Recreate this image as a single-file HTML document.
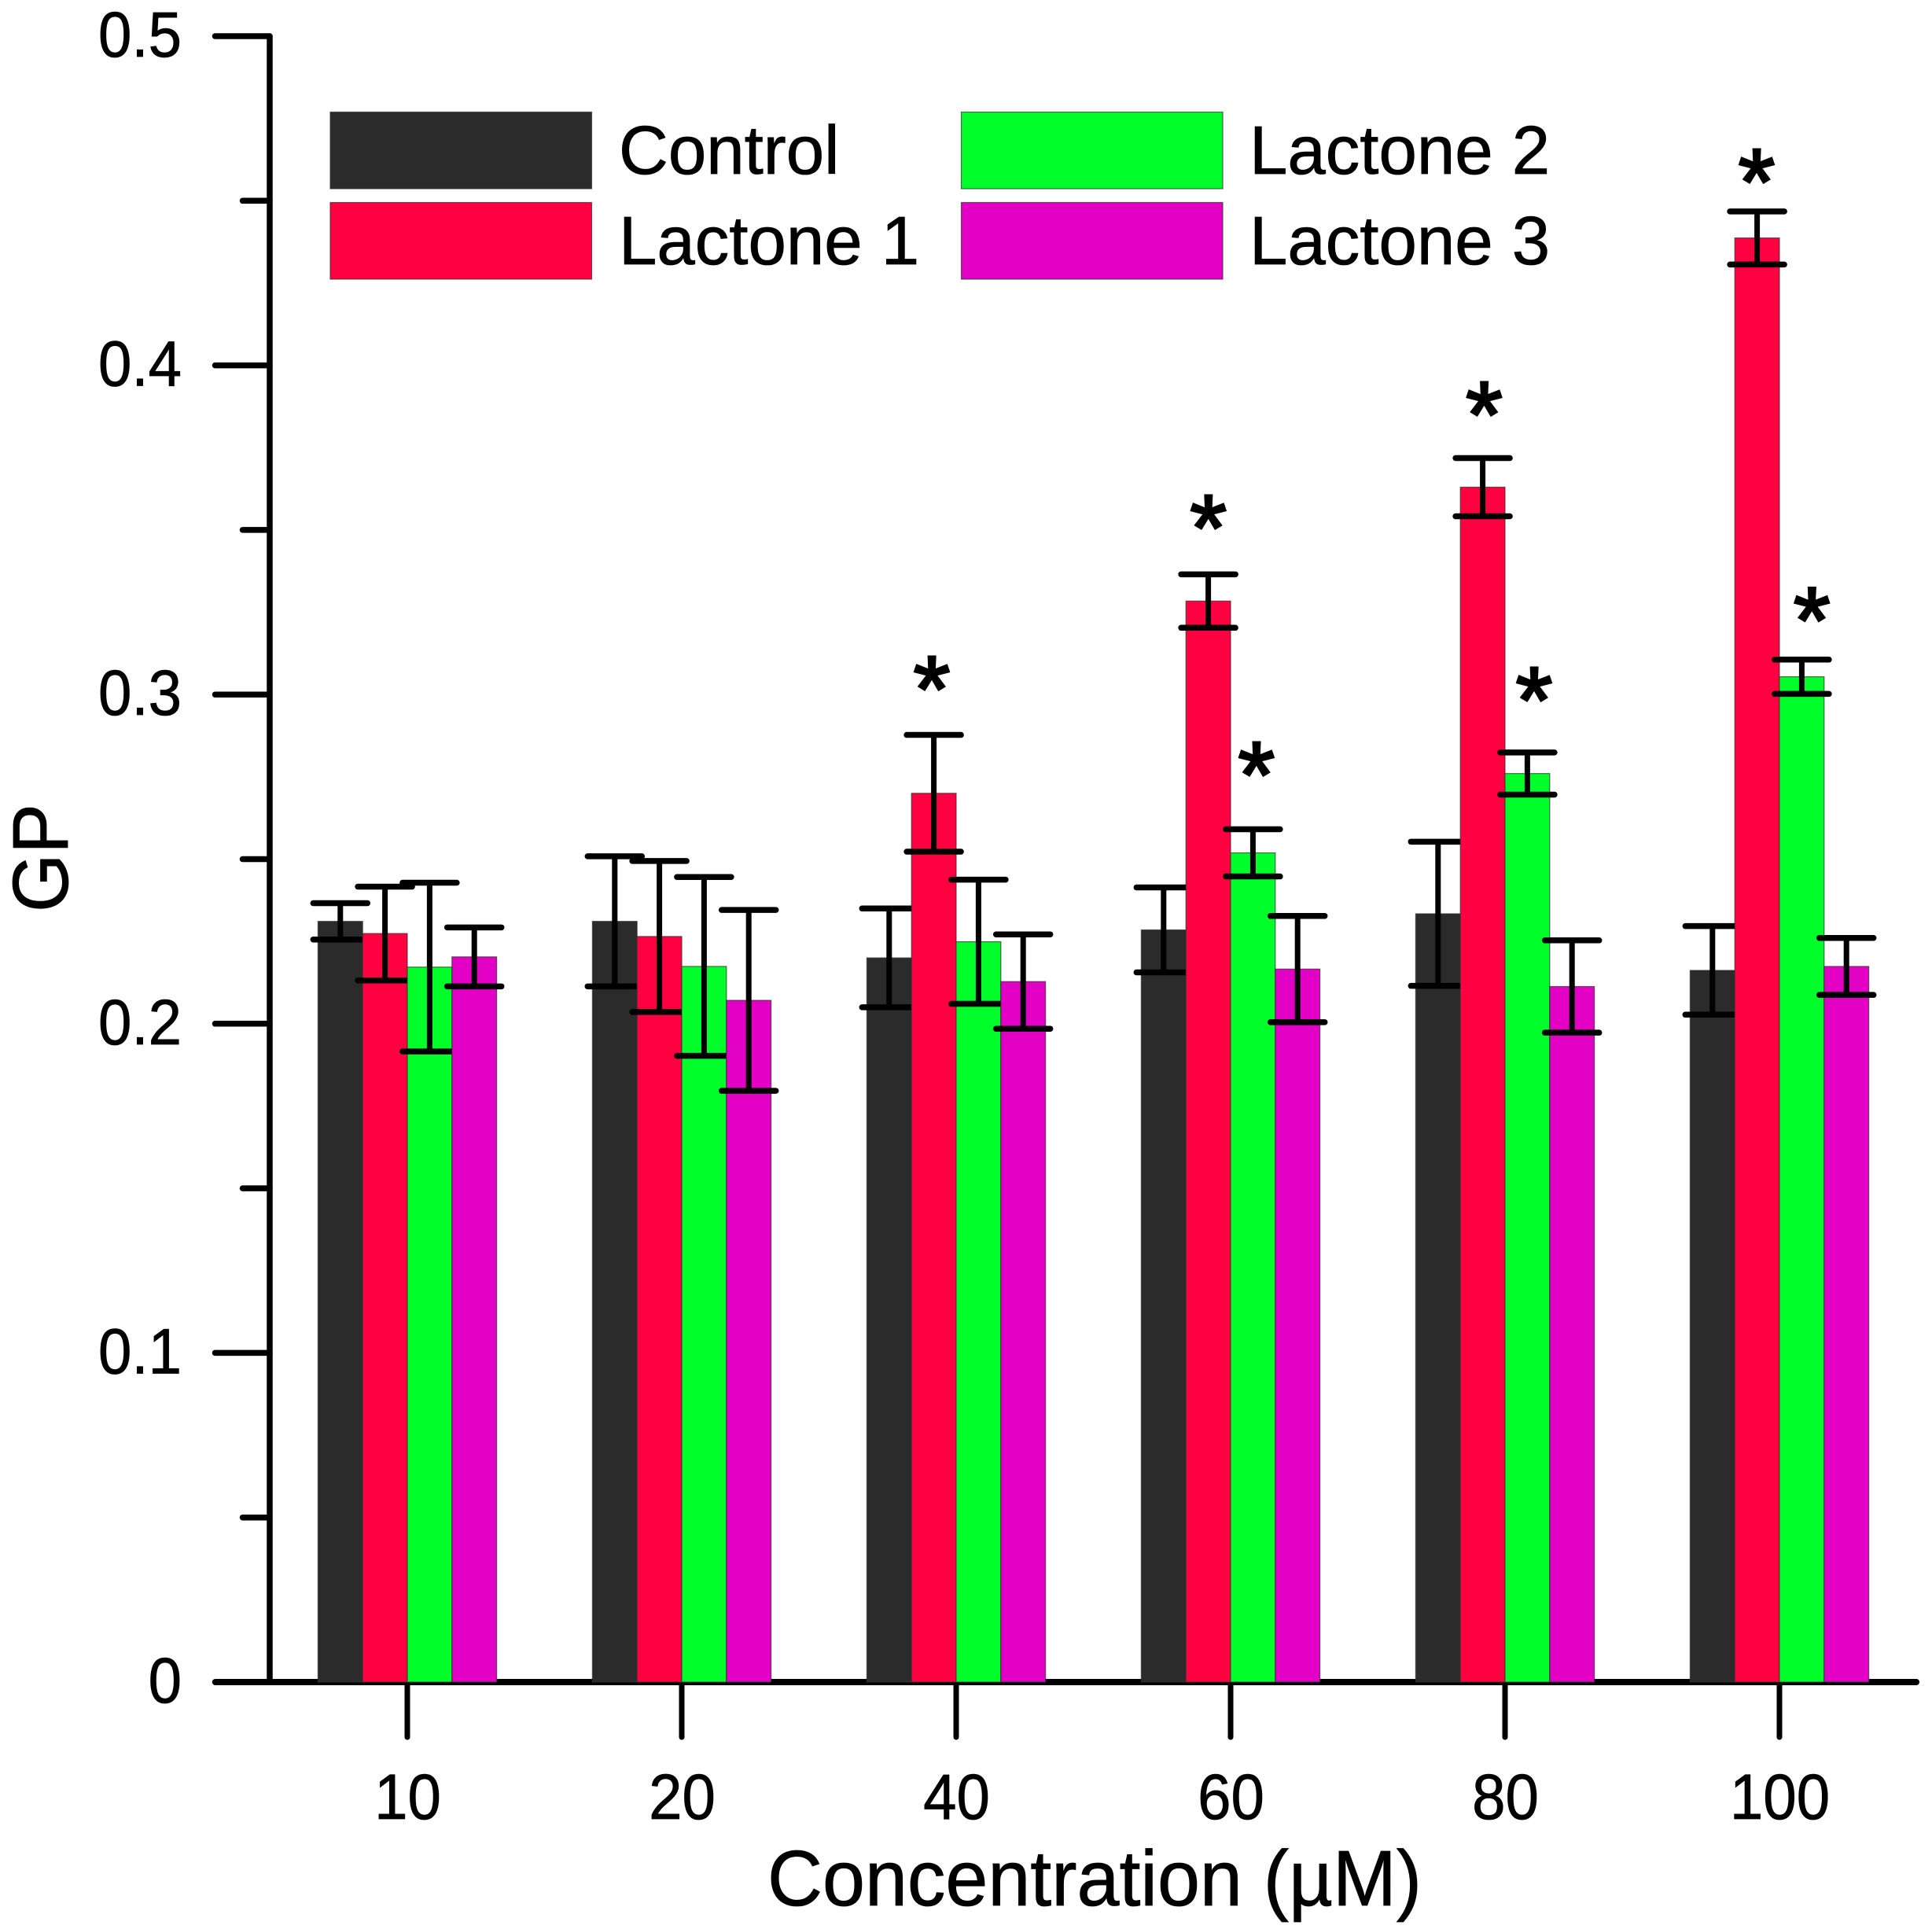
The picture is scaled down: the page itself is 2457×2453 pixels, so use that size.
<!DOCTYPE html>
<html lang="en">
<head>
<meta charset="utf-8">
<title>GP vs Concentration</title>
<style>
html,body{margin:0;padding:0;background:#fff;}
svg{display:block;}
text{font-family:"Liberation Sans",sans-serif;fill:#000;stroke:#000;stroke-width:0.8px;}
</style>
</head>
<body>
<svg id="chart" xmlns="http://www.w3.org/2000/svg" width="2457" height="2453" viewBox="0 0 2457 2453">
<rect x="0" y="0" width="2457" height="2453" fill="#ffffff"/>
<text x="0" y="0" font-size="100" text-anchor="middle" transform="translate(1392 2423) scale(0.97 1)">Concentration (µM)</text>
<text x="0" y="0" font-size="100" text-anchor="middle" transform="translate(86 1091) rotate(-90) scale(0.955 1)">GP</text>
</svg>
<script>
var categories = ['10', '20', '40', '60', '80', '100'];
var seriesNames = ['Control', 'Lactone 1', 'Lactone 2', 'Lactone 3'];
var seriesColors = ['#2b2b2b', '#ff0040', '#00ff2a', '#e100c3'];
var controlValues = [0.2311, 0.2311, 0.2200, 0.2285, 0.2334, 0.2162];
var lactone1Values = [0.2274, 0.2265, 0.2700, 0.3284, 0.3630, 0.4387];
var lactone2Values = [0.2172, 0.2174, 0.2249, 0.2519, 0.2760, 0.3054];
var lactone3Values = [0.2203, 0.2071, 0.2128, 0.2166, 0.2113, 0.2174];
var controlErrors = [0.00553, 0.01976, 0.0150, 0.0129, 0.0219, 0.01345];
var lactone1Errors = [0.01425, 0.02293, 0.01773, 0.00812, 0.00884, 0.00807];
var lactone2Errors = [0.02563, 0.02716, 0.01887, 0.00717, 0.0064, 0.00521];
var lactone3Errors = [0.00896, 0.02747, 0.01433, 0.01613, 0.01402, 0.00865];
var majorTicks = [0, 0.1, 0.2, 0.3, 0.4, 0.5];
var majorTickLabels = ['0', '0.1', '0.2', '0.3', '0.4', '0.5'];
var minorTicks = [0.05, 0.15, 0.25, 0.35, 0.45];
var starCategoryPositions = [1.911, 2.919, 3.094, 3.924, 4.106, 4.917, 5.118];
var starLevels = [0.3061, 0.3551, 0.2801, 0.3895, 0.3028, 0.4602, 0.3270];

var seriesValues = [controlValues, lactone1Values, lactone2Values, lactone3Values];
var seriesErrors = [controlErrors, lactone1Errors, lactone2Errors, lactone3Errors];

var svg = document.getElementById('chart');
var NS = 'http://www.w3.org/2000/svg';
var BAR_W = 56.8;
function xAt(pos) { return 518 + 349 * pos; }
function yAt(v) { return 2139 - 4186 * v; }
function mk(tag, attrs) {
  var el = document.createElementNS(NS, tag);
  for (var k in attrs) { el.setAttribute(k, attrs[k]); }
  svg.appendChild(el);
  return el;
}
function seg(x1, y1, x2, y2, w) {
  return mk('line', {x1: x1, y1: y1, x2: x2, y2: y2, stroke: '#000', 'stroke-width': w, 'stroke-linecap': 'round'});
}
function slug(s) { return s.toLowerCase().replace(/\s+/g, '-'); }

var el;
el = seg(343, yAt(0.5), 343, yAt(0), 7.5);


el = seg(274, yAt(0), 2437, yAt(0), 8);



majorTicks.forEach(function (t, i) {
  var tick = seg(273.5, yAt(t), 343, yAt(t), 7.5);
  
  
  var label = mk('text', {x: 0, y: 0, 'font-size': 82, 'text-anchor': 'end', transform: 'translate(231 ' + (yAt(t) + 26) + ') scale(0.93 1)'});
  label.textContent = majorTickLabels[i];
  
  
});
minorTicks.forEach(function (t) {
  var tick = seg(308.5, yAt(t), 343, yAt(t), 7.5);
  
  
});
categories.forEach(function (c, i) {
  var tick = seg(xAt(i), yAt(0), xAt(i), 2209, 7);
  
  
  var label = mk('text', {x: 0, y: 0, 'font-size': 82, 'text-anchor': 'middle', transform: 'translate(' + (xAt(i) + 0.5) + ' 2313) scale(0.93 1)'});
  label.textContent = c;
  
  
});

categories.forEach(function (c, g) {
  seriesNames.forEach(function (name, s) {
    var v = seriesValues[s][g];
    var e = seriesErrors[s][g];
    var left = xAt(g) + (s - 2) * BAR_W;
    var mid = left + BAR_W / 2;
    var bar = mk('rect', {x: left, y: yAt(v), width: BAR_W, height: yAt(0) - yAt(v), fill: seriesColors[s], stroke: '#333', 'stroke-opacity': 0.75, 'stroke-width': 1.2});
    
    
    var stem = seg(mid, yAt(v + e), mid, yAt(v - e), 7);
    
    
    var capTop = seg(mid - 34.5, yAt(v + e), mid + 34.5, yAt(v + e), 7.5);
    
    
    var capLow = seg(mid - 34.5, yAt(v - e), mid + 34.5, yAt(v - e), 7.5);
    
    
  });
});

starLevels.forEach(function (lvl, i) {
  var star = mk('text', {x: xAt(starCategoryPositions[i]), y: yAt(lvl) + 60, 'font-size': 120, 'text-anchor': 'middle', style: 'stroke-width:3px'});
  star.textContent = '*';
  
  
});

seriesNames.forEach(function (name, i) {
  var col = i === 0 || i === 1 ? 0 : 1;
  var row = i === 0 || i === 2 ? 0 : 1;
  var swatch = mk('rect', {x: 420 + col * 802.5, y: 142.5 + row * 115, width: 332.5, height: 97.5, fill: seriesColors[i], stroke: '#333', 'stroke-opacity': 0.75, 'stroke-width': 1.2});
  
  
  var text = mk('text', {x: 787 + col * 802, y: 221 + row * 115, 'font-size': 87});
  text.textContent = name;
  
  
});
</script>
</body>
</html>
